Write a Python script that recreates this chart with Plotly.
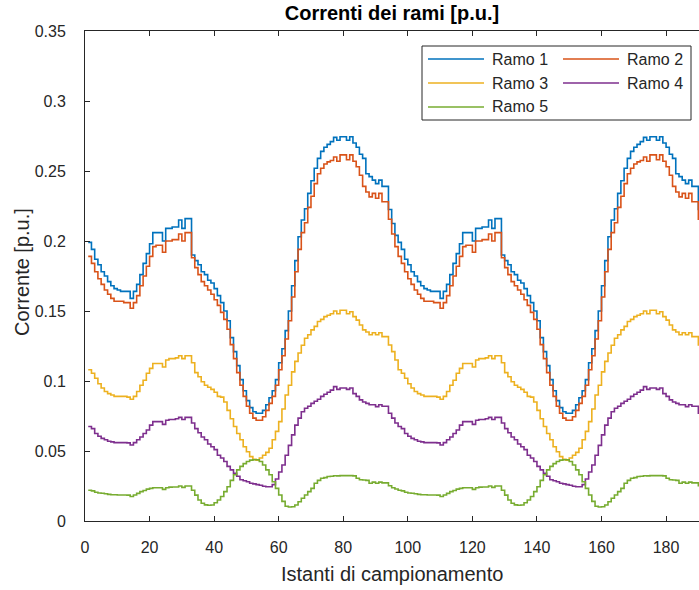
import plotly.graph_objects as go

# Sample index (stairs plot, one step per sample)
campioni = list(range(1, 193))

# Branch currents [p.u.], two consecutive days of 96 samples
ramo1 = [
    0.199, 0.194, 0.187, 0.183, 0.178, 0.175, 0.171, 0.168, 0.166, 0.165,
    0.164, 0.164, 0.164, 0.159, 0.164, 0.169, 0.176, 0.184, 0.191, 0.198,
    0.206, 0.206, 0.206, 0.200, 0.209, 0.209, 0.210, 0.210, 0.215, 0.209,
    0.216, 0.216, 0.190, 0.186, 0.183, 0.178, 0.176, 0.172, 0.170, 0.166,
    0.161, 0.156, 0.150, 0.143, 0.131, 0.121, 0.111, 0.101, 0.093, 0.086,
    0.081, 0.078, 0.077, 0.077, 0.079, 0.083, 0.088, 0.093, 0.101, 0.113,
    0.123, 0.136, 0.150, 0.168, 0.186, 0.203, 0.215, 0.223, 0.234, 0.243,
    0.252, 0.259, 0.264, 0.267, 0.269, 0.271, 0.274, 0.272, 0.2745, 0.2745,
    0.272, 0.2745, 0.270, 0.267, 0.262, 0.259, 0.248, 0.246, 0.2435, 0.241,
    0.2435, 0.239, 0.239, 0.2225, 0.2125, 0.204,
    0.199, 0.194, 0.187, 0.183, 0.178, 0.175, 0.171, 0.168, 0.166, 0.165,
    0.164, 0.164, 0.164, 0.159, 0.164, 0.169, 0.176, 0.184, 0.191, 0.198,
    0.206, 0.206, 0.206, 0.200, 0.209, 0.209, 0.210, 0.210, 0.215, 0.209,
    0.216, 0.216, 0.190, 0.186, 0.183, 0.178, 0.176, 0.172, 0.170, 0.166,
    0.161, 0.156, 0.150, 0.143, 0.131, 0.121, 0.111, 0.101, 0.093, 0.086,
    0.081, 0.078, 0.077, 0.077, 0.079, 0.083, 0.088, 0.093, 0.101, 0.113,
    0.123, 0.136, 0.150, 0.168, 0.186, 0.203, 0.215, 0.223, 0.234, 0.243,
    0.252, 0.259, 0.264, 0.267, 0.269, 0.271, 0.274, 0.272, 0.2745, 0.2745,
    0.272, 0.2745, 0.270, 0.267, 0.262, 0.259, 0.248, 0.246, 0.2435, 0.241,
    0.2435, 0.239, 0.239, 0.2225, 0.2125, 0.204,
]

ramo2 = [
    0.189, 0.184, 0.178, 0.173, 0.169, 0.165, 0.162, 0.159, 0.157, 0.157,
    0.157, 0.156, 0.156, 0.152, 0.156, 0.161, 0.168, 0.175, 0.182, 0.189,
    0.196, 0.197, 0.197, 0.192, 0.200, 0.200, 0.201, 0.201, 0.205, 0.200,
    0.206, 0.206, 0.188, 0.181, 0.176, 0.171, 0.168, 0.165, 0.162, 0.158,
    0.154, 0.149, 0.144, 0.137, 0.126, 0.116, 0.106, 0.097, 0.089, 0.082,
    0.077, 0.0735, 0.072, 0.072, 0.0745, 0.079, 0.084, 0.089, 0.097, 0.108,
    0.118, 0.130, 0.143, 0.160, 0.178, 0.194, 0.206, 0.213, 0.224, 0.232,
    0.241, 0.248, 0.252, 0.255, 0.2565, 0.2575, 0.260, 0.257, 0.2615, 0.2615,
    0.258, 0.2615, 0.257, 0.253, 0.247, 0.239, 0.235, 0.2315, 0.234, 0.2305,
    0.234, 0.228, 0.228, 0.2155, 0.205, 0.196,
    0.189, 0.184, 0.178, 0.173, 0.169, 0.165, 0.162, 0.159, 0.157, 0.157,
    0.157, 0.156, 0.156, 0.152, 0.156, 0.161, 0.168, 0.175, 0.182, 0.189,
    0.196, 0.197, 0.197, 0.192, 0.200, 0.200, 0.201, 0.201, 0.205, 0.200,
    0.206, 0.206, 0.188, 0.181, 0.176, 0.171, 0.168, 0.165, 0.162, 0.158,
    0.154, 0.149, 0.144, 0.137, 0.126, 0.116, 0.106, 0.097, 0.089, 0.082,
    0.077, 0.0735, 0.072, 0.072, 0.0745, 0.079, 0.084, 0.089, 0.097, 0.108,
    0.118, 0.130, 0.143, 0.160, 0.178, 0.194, 0.206, 0.213, 0.224, 0.232,
    0.241, 0.248, 0.252, 0.255, 0.2565, 0.2575, 0.260, 0.257, 0.2615, 0.2615,
    0.258, 0.2615, 0.257, 0.253, 0.247, 0.239, 0.235, 0.2315, 0.234, 0.2305,
    0.234, 0.228, 0.228, 0.2155, 0.205, 0.196,
]

ramo3 = [
    0.108, 0.1055, 0.102, 0.098, 0.095, 0.0925, 0.091, 0.090, 0.089, 0.089,
    0.089, 0.089, 0.0885, 0.087, 0.089, 0.0925, 0.097, 0.1005, 0.1055, 0.109,
    0.1125, 0.1125, 0.1125, 0.110, 0.115, 0.116, 0.116, 0.1165, 0.118, 0.116,
    0.118, 0.118, 0.113, 0.106, 0.103, 0.0995, 0.097, 0.0955, 0.094, 0.092,
    0.089, 0.0885, 0.085, 0.079, 0.073, 0.0675, 0.0625, 0.058, 0.053, 0.0495,
    0.046, 0.044, 0.0435, 0.045, 0.047, 0.049, 0.052, 0.058, 0.064, 0.071,
    0.080, 0.090, 0.097, 0.1065, 0.114, 0.120, 0.1255, 0.1305, 0.133, 0.1365,
    0.139, 0.1425, 0.144, 0.146, 0.147, 0.148, 0.150, 0.148, 0.1505, 0.1505,
    0.148, 0.1495, 0.146, 0.1435, 0.140, 0.1365, 0.135, 0.133, 0.1345, 0.133,
    0.1345, 0.1317, 0.1317, 0.1257, 0.121, 0.115,
    0.108, 0.1055, 0.102, 0.098, 0.095, 0.0925, 0.091, 0.090, 0.089, 0.089,
    0.089, 0.089, 0.0885, 0.087, 0.089, 0.0925, 0.097, 0.1005, 0.1055, 0.109,
    0.1125, 0.1125, 0.1125, 0.110, 0.115, 0.116, 0.116, 0.1165, 0.118, 0.116,
    0.118, 0.118, 0.113, 0.106, 0.103, 0.0995, 0.097, 0.0955, 0.094, 0.092,
    0.089, 0.0885, 0.085, 0.079, 0.073, 0.0675, 0.0625, 0.058, 0.053, 0.0495,
    0.046, 0.044, 0.0435, 0.045, 0.047, 0.049, 0.052, 0.058, 0.064, 0.071,
    0.080, 0.090, 0.097, 0.1065, 0.114, 0.120, 0.1255, 0.1305, 0.133, 0.1365,
    0.139, 0.1425, 0.144, 0.146, 0.147, 0.148, 0.150, 0.148, 0.1505, 0.1505,
    0.148, 0.1495, 0.146, 0.1435, 0.140, 0.1365, 0.135, 0.133, 0.1345, 0.133,
    0.1345, 0.1317, 0.1317, 0.1257, 0.121, 0.115,
]

ramo4 = [
    0.0675, 0.066, 0.0625, 0.0605, 0.059, 0.058, 0.057, 0.0565, 0.056, 0.056,
    0.056, 0.056, 0.0558, 0.0543, 0.056, 0.058, 0.060, 0.0625, 0.065, 0.0685,
    0.071, 0.071, 0.071, 0.069, 0.072, 0.0725, 0.0725, 0.073, 0.074, 0.0725,
    0.074, 0.074, 0.070, 0.066, 0.063, 0.060, 0.058, 0.055, 0.053, 0.051,
    0.047, 0.045, 0.0425, 0.039, 0.0365, 0.034, 0.032, 0.0295, 0.0287, 0.028,
    0.027, 0.0265, 0.026, 0.0255, 0.0248, 0.0245, 0.0245, 0.026, 0.030, 0.035,
    0.040, 0.047, 0.054, 0.0615, 0.0685, 0.0735, 0.078, 0.0805, 0.082, 0.084,
    0.0855, 0.087, 0.089, 0.0905, 0.092, 0.0935, 0.096, 0.094, 0.095, 0.095,
    0.094, 0.095, 0.091, 0.089, 0.0865, 0.085, 0.084, 0.083, 0.083, 0.0817,
    0.083, 0.082, 0.082, 0.077, 0.0735, 0.070,
    0.0675, 0.066, 0.0625, 0.0605, 0.059, 0.058, 0.057, 0.0565, 0.056, 0.056,
    0.056, 0.056, 0.0558, 0.0543, 0.056, 0.058, 0.060, 0.0625, 0.065, 0.0685,
    0.071, 0.071, 0.071, 0.069, 0.072, 0.0725, 0.0725, 0.073, 0.074, 0.0725,
    0.074, 0.074, 0.070, 0.066, 0.063, 0.060, 0.058, 0.055, 0.053, 0.051,
    0.047, 0.045, 0.0425, 0.039, 0.0365, 0.034, 0.032, 0.0295, 0.0287, 0.028,
    0.027, 0.0265, 0.026, 0.0255, 0.0248, 0.0245, 0.0245, 0.026, 0.030, 0.035,
    0.040, 0.047, 0.054, 0.0615, 0.0685, 0.0735, 0.078, 0.0805, 0.082, 0.084,
    0.0855, 0.087, 0.089, 0.0905, 0.092, 0.0935, 0.096, 0.094, 0.095, 0.095,
    0.094, 0.095, 0.091, 0.089, 0.0865, 0.085, 0.084, 0.083, 0.083, 0.0817,
    0.083, 0.082, 0.082, 0.077, 0.0735, 0.070,
]

ramo5 = [
    0.022, 0.0215, 0.0205, 0.020, 0.0198, 0.0195, 0.019, 0.0188, 0.0187, 0.0186,
    0.0186, 0.0186, 0.0185, 0.0175, 0.0186, 0.0197, 0.021, 0.0218, 0.0228, 0.0233,
    0.0238, 0.0238, 0.0238, 0.0226, 0.0238, 0.0242, 0.0243, 0.0243, 0.025, 0.024,
    0.025, 0.025, 0.022, 0.0185, 0.015, 0.0127, 0.0115, 0.0112, 0.0114, 0.013,
    0.015, 0.0175, 0.021, 0.0245, 0.029, 0.033, 0.0365, 0.039, 0.041, 0.0425,
    0.0435, 0.0437, 0.0437, 0.0425, 0.040, 0.0365, 0.033, 0.028, 0.0233, 0.0186,
    0.014, 0.0105, 0.010, 0.0102, 0.0114, 0.0138, 0.0162, 0.0186, 0.021, 0.0233,
    0.027, 0.029, 0.0305, 0.031, 0.0318, 0.032, 0.0323, 0.0322, 0.0324, 0.0324,
    0.0324, 0.0324, 0.0322, 0.0305, 0.0295, 0.0293, 0.029, 0.027, 0.0278, 0.027,
    0.0278, 0.0272, 0.0272, 0.0252, 0.0238, 0.0229,
    0.022, 0.0215, 0.0205, 0.020, 0.0198, 0.0195, 0.019, 0.0188, 0.0187, 0.0186,
    0.0186, 0.0186, 0.0185, 0.0175, 0.0186, 0.0197, 0.021, 0.0218, 0.0228, 0.0233,
    0.0238, 0.0238, 0.0238, 0.0226, 0.0238, 0.0242, 0.0243, 0.0243, 0.025, 0.024,
    0.025, 0.025, 0.022, 0.0185, 0.015, 0.0127, 0.0115, 0.0112, 0.0114, 0.013,
    0.015, 0.0175, 0.021, 0.0245, 0.029, 0.033, 0.0365, 0.039, 0.041, 0.0425,
    0.0435, 0.0437, 0.0437, 0.0425, 0.040, 0.0365, 0.033, 0.028, 0.0233, 0.0186,
    0.014, 0.0105, 0.010, 0.0102, 0.0114, 0.0138, 0.0162, 0.0186, 0.021, 0.0233,
    0.027, 0.029, 0.0305, 0.031, 0.0318, 0.032, 0.0323, 0.0322, 0.0324, 0.0324,
    0.0324, 0.0324, 0.0322, 0.0305, 0.0295, 0.0293, 0.029, 0.027, 0.0278, 0.027,
    0.0278, 0.0272, 0.0272, 0.0252, 0.0238, 0.0229,
]

nomi = ["Ramo 1", "Ramo 2", "Ramo 3", "Ramo 4", "Ramo 5"]
colori = ["#0072BD", "#D95319", "#EDB120", "#7E2F8E", "#77AC30"]

tick_x = [0, 20, 40, 60, 80, 100, 120, 140, 160, 180]
tick_y = [0, 0.05, 0.1, 0.15, 0.2, 0.25, 0.3, 0.35]
tick_y_testo = ["0", "0.05", "0.1", "0.15", "0.2", "0.25", "0.3", "0.35"]

titolo = "Correnti dei rami [p.u.]"
etichetta_x = "Istanti di campionamento"
etichetta_y = "Corrente [p.u.]"

# Page geometry (pixels)
W, H = 699, 590
ML, MT, MB = 85, 31, 69
PW, PH = W - ML, H - MT - MB
FONT = "Liberation Sans, Arial, Helvetica, sans-serif"
GRIGIO = "#262626"


def px_x(p):
    return (p - ML) / PW


def px_y(p):
    return (H - MB - p) / PH


fig = go.Figure()
for nome, serie, colore in zip(nomi, [ramo1, ramo2, ramo3, ramo4, ramo5], colori):
    fig.add_trace(go.Scatter(
        x=campioni, y=serie, name=nome, mode="lines",
        line=dict(shape="hv", color=colore, width=1.6),
        showlegend=False, hoverinfo="skip",
    ))

# Legend box drawn in two columns
shapes = [dict(type="rect", xref="paper", yref="paper",
               x0=px_x(422), x1=px_x(691), y0=px_y(120), y1=px_y(46),
               line=dict(color=GRIGIO, width=1), fillcolor="white", layer="above")]
annotations = []
col_linea = [(428, 484), (563, 619)]
col_testo = [490, 625]
righe = [59, 83, 107]
for k, (nome, colore) in enumerate(zip(nomi, colori)):
    r, c = divmod(k, 2)
    shapes.append(dict(type="line", xref="paper", yref="paper",
                       x0=px_x(col_linea[c][0]), x1=px_x(col_linea[c][1]),
                       y0=px_y(righe[r]), y1=px_y(righe[r]),
                       line=dict(color=colore, width=1.6), layer="above"))
    annotations.append(dict(xref="paper", yref="paper", x=px_x(col_testo[c]),
                            y=px_y(righe[r]), text=nome, showarrow=False,
                            xanchor="left", yanchor="middle",
                            font=dict(family=FONT, size=16, color=GRIGIO)))

# Axis labels
annotations.append(dict(xref="paper", yref="paper", x=px_x(392), y=px_y(574),
                        text=etichetta_x, showarrow=False, xanchor="center",
                        yanchor="middle",
                        font=dict(family=FONT, size=20, color=GRIGIO)))
annotations.append(dict(xref="paper", yref="paper", x=px_x(22), y=px_y(272),
                        text=etichetta_y, showarrow=False, textangle=-90,
                        xanchor="center", yanchor="middle",
                        font=dict(family=FONT, size=20, color=GRIGIO)))

fig.update_layout(
    width=W, height=H,
    margin=dict(l=ML, r=0, t=MT, b=MB, pad=0),
    paper_bgcolor="white", plot_bgcolor="white",
    font=dict(family=FONT, color=GRIGIO),
    title=dict(text="<b>" + titolo + "</b>", x=0.5, xref="paper",
               y=1 - 13 / H, yref="container", yanchor="middle", xanchor="center",
               font=dict(family=FONT, size=20, color="#000000")),
    shapes=shapes, annotations=annotations,
    xaxis=dict(range=[0, 190.2], tickvals=tick_x, ticks="inside", ticklen=5,
               tickcolor=GRIGIO, showline=True, linecolor=GRIGIO, linewidth=1,
               mirror="ticks", showgrid=False, zeroline=False,
               tickfont=dict(family=FONT, size=16, color=GRIGIO),
               ticklabelstandoff=12),
    yaxis=dict(range=[0, 0.35], tickvals=tick_y, ticktext=tick_y_testo,
               ticks="inside", ticklen=5, tickcolor=GRIGIO, showline=True,
               linecolor=GRIGIO, linewidth=1, mirror=False, showgrid=False,
               zeroline=False, tickfont=dict(family=FONT, size=16, color=GRIGIO),
               ticklabelstandoff=15),
)

fig.write_html("out.html")
